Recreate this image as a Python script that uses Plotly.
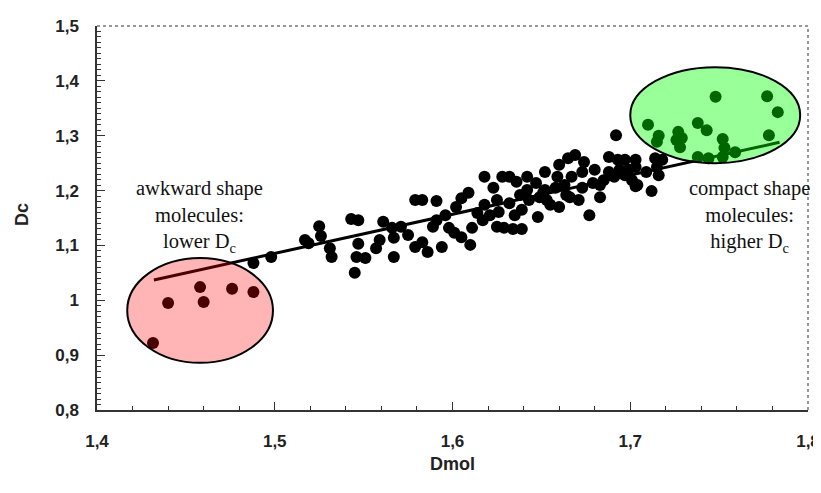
import plotly.graph_objects as go

# ---- data (Dmol, Dc) ----
dmol = [1.4315, 1.440, 1.458, 1.460, 1.476, 1.488, 1.488, 1.498, 1.519, 1.517,
        1.525, 1.526, 1.531, 1.532, 1.543, 1.547, 1.545, 1.547, 1.546, 1.551,
        1.557, 1.561, 1.566, 1.567, 1.567, 1.571, 1.579, 1.583, 1.591, 1.579,
        1.583, 1.586, 1.594, 1.589, 1.591, 1.598, 1.605, 1.611, 1.602, 1.605,
        1.609, 1.618, 1.628, 1.632, 1.642, 1.636, 1.623, 1.618, 1.625, 1.614,
        1.617, 1.626, 1.632, 1.625, 1.629, 1.634, 1.639, 1.635, 1.639, 1.648,
        1.643, 1.651, 1.647, 1.652, 1.692, 1.659, 1.665, 1.669, 1.674, 1.667,
        1.673, 1.693, 1.703, 1.714, 1.688, 1.699, 1.709, 1.716, 1.652, 1.658,
        1.664, 1.673, 1.679, 1.685, 1.691, 1.683, 1.703, 1.712, 1.653, 1.660,
        1.666, 1.649, 1.677, 1.688, 1.697, 1.718, 1.694, 1.703, 1.715, 1.701,
        1.704, 1.596, 1.601, 1.621, 1.638, 1.655, 1.663, 1.671, 1.680, 1.697,
        1.683, 1.660, 1.575, 1.559, 1.610, 1.642,
        1.710, 1.716, 1.715, 1.727, 1.729, 1.726, 1.728, 1.738, 1.743, 1.752,
        1.778, 1.738, 1.744, 1.753, 1.752, 1.759, 1.748, 1.777, 1.783]
dc = [0.922, 0.995, 1.024, 0.997, 1.021, 1.015, 1.068, 1.079, 1.104, 1.110,
      1.135, 1.117, 1.095, 1.079, 1.148, 1.146, 1.050, 1.103, 1.079, 1.077,
      1.095, 1.143, 1.132, 1.114, 1.079, 1.134, 1.183, 1.183, 1.181, 1.097,
      1.106, 1.088, 1.097, 1.134, 1.146, 1.132, 1.115, 1.132, 1.170, 1.186,
      1.196, 1.225, 1.225, 1.225, 1.225, 1.216, 1.205, 1.174, 1.183, 1.159,
      1.146, 1.161, 1.177, 1.134, 1.132, 1.130, 1.130, 1.155, 1.165, 1.152,
      1.183, 1.196, 1.214, 1.234, 1.301, 1.225, 1.259, 1.265, 1.252, 1.225,
      1.234, 1.256, 1.256, 1.259, 1.234, 1.238, 1.234, 1.228, 1.201, 1.205,
      1.192, 1.205, 1.214, 1.219, 1.225, 1.188, 1.208, 1.199, 1.183, 1.170,
      1.188, 1.188, 1.155, 1.261, 1.256, 1.256, 1.238, 1.243, 1.243, 1.219,
      1.210, 1.155, 1.123, 1.155, 1.192, 1.174, 1.210, 1.183, 1.238, 1.228,
      1.210, 1.247, 1.119, 1.110, 1.101, 1.201,
      1.320, 1.300, 1.289, 1.307, 1.296, 1.292, 1.279, 1.323, 1.310, 1.294,
      1.301, 1.261, 1.259, 1.278, 1.261, 1.270, 1.371, 1.372, 1.343]

# regression line end points
fit_x = [1.432, 1.784]
fit_y = [1.037, 1.288]

# highlighted regions (x0, x1, y0, y1)
low_region = [1.417, 1.499, 0.886, 1.077]
high_region = [1.700, 1.7956, 1.250, 1.425]

x_range = [1.4, 1.8]
y_range = [0.8, 1.5]
x_ticks = [1.4, 1.5, 1.6, 1.7, 1.8]
x_ticklabels = ["1,4", "1,5", "1,6", "1,7", "1,8"]
y_ticks = [0.8, 0.9, 1.0, 1.1, 1.2, 1.3, 1.4, 1.5]
y_ticklabels = ["0,8", "0,9", "1", "1,1", "1,2", "1,3", "1,4", "1,5"]

fig = go.Figure()
fig.add_trace(go.Scatter(x=dmol, y=dc, mode="markers",
                         marker=dict(size=12, color="black"),
                         showlegend=False, hoverinfo="skip", cliponaxis=False))
fig.add_trace(go.Scatter(x=fit_x, y=fit_y, mode="lines", xaxis="x2", yaxis="y2",
                         line=dict(color="black", width=3),
                         showlegend=False, hoverinfo="skip"))

fig.add_shape(type="circle", xref="x", yref="y",
              x0=low_region[0], x1=low_region[1], y0=low_region[2], y1=low_region[3],
              fillcolor="rgba(255,0,0,0.29)", line=dict(color="black", width=2),
              layer="above")
fig.add_shape(type="circle", xref="x", yref="y",
              x0=high_region[0], x1=high_region[1], y0=high_region[2], y1=high_region[3],
              fillcolor="rgba(0,255,0,0.4)", line=dict(color="black", width=2),
              layer="above")

# dotted top and right frame
fig.add_shape(type="line", xref="x domain", yref="y domain", x0=0, x1=1, y0=1, y1=1,
              line=dict(color="#777", width=1.5, dash="dot"))
fig.add_shape(type="line", xref="x domain", yref="y domain", x0=1, x1=1, y0=0, y1=1,
              line=dict(color="#777", width=1.5, dash="dot"))

tfont = dict(family="Liberation Serif, Times New Roman, serif", size=20.5, color="#111")
fig.add_annotation(x=1.4579, y=1.153, xref="x", yref="y",
                   text="awkward shape<br>molecules:<br>lower D<sub>c</sub>",
                   showarrow=False, font=tfont, align="center")
fig.add_annotation(x=1.767, y=1.153, xref="x", yref="y",
                   text="compact shape<br>molecules:<br>higher D<sub>c</sub>",
                   showarrow=False, font=tfont, align="center")

axfont = dict(family="Liberation Sans, Arial, sans-serif", size=17, color="#222", weight="bold")
ttlfont = dict(family="Liberation Sans, Arial, sans-serif", size=18, color="#222", weight="bold")

# axis titles
fig.add_annotation(x=0.5, y=0, xref="paper", yref="paper", yanchor="middle", yshift=-54,
                   text="Dmol", showarrow=False, font=ttlfont)
fig.add_annotation(x=0, y=0.5, xref="paper", yref="paper", xanchor="center", xshift=-75,
                   yshift=3, text="Dc", textangle=-90, showarrow=False, font=ttlfont)

# main axes: labels + axis lines (transparent outside ticks set the label gap)
fig.update_layout(
    xaxis=dict(range=x_range, tickvals=x_ticks, ticktext=x_ticklabels,
               tickfont=axfont, showgrid=False, zeroline=False, automargin=False,
               showline=True, linecolor="#333", linewidth=1.5,
               ticks="outside", ticklen=15, tickcolor="rgba(0,0,0,0)"),
    yaxis=dict(range=y_range, tickvals=y_ticks, ticktext=y_ticklabels,
               tickfont=axfont, showgrid=False, zeroline=False, automargin=False,
               showline=True, linecolor="#333", linewidth=1.5,
               ticks="outside", ticklen=13, tickcolor="rgba(0,0,0,0)"),
    # overlay axes: inward tick marks only
    xaxis2=dict(range=x_range, overlaying="x", anchor="y2", side="bottom",
                tickvals=x_ticks, showticklabels=False, showgrid=False, zeroline=False,
                showline=False, automargin=False,
                ticks="inside", ticklen=8, tickcolor="#333",
                minor=dict(dtick=0.02, ticks="inside", ticklen=4, tickcolor="#333")),
    yaxis2=dict(range=y_range, overlaying="y", anchor="x2", side="left",
                tickvals=y_ticks, showticklabels=False, showgrid=False, zeroline=False,
                showline=False, automargin=False,
                ticks="inside", ticklen=8, tickcolor="#333",
                minor=dict(dtick=0.01, ticks="inside", ticklen=4, tickcolor="#333")),
)

# page body adds an 8px offset; size the figure so the plot area lands where the reference has it
fig.update_layout(width=813, height=485, plot_bgcolor="white", paper_bgcolor="white",
                  margin=dict(l=89, r=13, t=18, b=83), showlegend=False)

fig.write_html("out.html")
